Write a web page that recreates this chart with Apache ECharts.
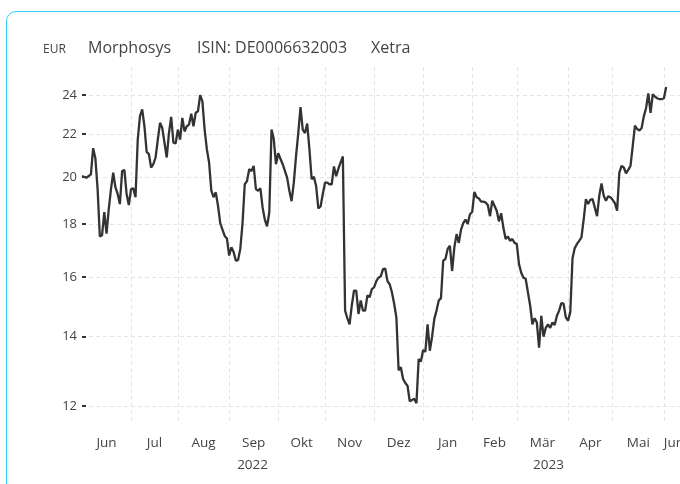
<!DOCTYPE html>
<html>
<head>
<meta charset="utf-8">
<script src="https://cdn.jsdelivr.net/npm/echarts@6/dist/echarts.min.js"></script>
<style>
  html, body { margin: 0; padding: 0; background: #fff; overflow: hidden; }
  #chart { position: absolute; left: 0; top: 0; width: 680px; height: 484px; }
  #frame { position: absolute; left: 6px; top: 11px; width: 740px; height: 540px;
           border: 1.5px solid #33cff5; border-radius: 10px; pointer-events: none; }
</style>
</head>
<body>
<div id="chart"></div>
<div id="frame"></div>
<script>
// ---- data (weekday session index counted from 2022-06-01, closing price in EUR) ----
const firstSession = [2022, 5, 1]; // 1 June 2022 (UTC month is 0-based)
const dayIndex = [
  0,2,4,5,6,7,8,9,10,11,12,13,14,15,16,17,18,19,20,21,22,23,24,25,26,27,28,29,30,31,32,33,34,35,36,37,38,39,40,41,42,43,44,
  45,46,47,48,49,50,51,52,53,54,55,56,57,58,59,60,61,62,63,64,65,66,67,68,69,70,71,72,73,74,75,76,77,78,79,80,81,82,83,84,85,86,87,88,
  90,92,93,94,95,96,97,98,99,100,101,102,103,104,105,106,107,108,109,110,111,112,113,114,115,116,117,118,119,120,121,122,123,124,125,126,127,128,129,130,131,132,
  133,134,135,136,137,138,139,140,141,142,143,144,145,146,147,148,149,150,151,152,153,154,155,156,157,158,159,160,161,162,163,164,165,166,167,168,169,170,171,172,173,174,175,
  176,177,178,179,180,181,182,183,184,186,187,188,189,190,191,192,193,194,195,196,197,198,199,200,201,202,203,204,205,206,207,208,209,210,211,212,213,214,215,216,217,218,219,220,
  221,222,223,224,225,226,227,228,229,231,232,233,234,235,236,237,238,239,240,241,242,243,244,245,246,247,248,249,250,251,252,253,254,255,256,257,258,259,260,261,262
];
const closePrice = [
  20.03,19.96,20.11,21.32,20.84,19.46,17.51,17.56,18.49,17.62,18.61,19.46,20.19,19.53,19.25,18.82,20.26,20.31,19.25,18.78,19.46,19.49,19.11,21.73,22.90,23.24,22.39,21.14,21.04,20.42,20.57,20.88,21.73,22.56,22.30,21.58,20.88,22.05,22.86,21.58,21.55,22.22,21.73,
  22.81,22.13,22.39,22.47,23.02,22.39,23.07,23.15,24.00,23.66,22.22,21.27,20.65,19.39,19.11,19.32,18.75,18.04,17.78,17.53,17.43,16.78,17.09,16.91,16.59,16.61,17.03,18.04,19.67,19.81,20.34,20.26,20.49,19.46,19.39,19.49,18.68,18.18,17.91,18.47,22.22,21.77,20.57,21.08,
  20.57,19.96,19.39,18.94,19.74,20.96,22.05,23.37,22.22,22.05,22.52,21.27,19.89,20.00,19.60,18.64,18.72,19.25,19.74,19.74,19.67,19.67,20.47,20.03,20.37,20.65,20.93,14.84,14.59,14.39,15.01,15.52,15.52,14.73,15.18,14.84,14.84,15.35,15.29,15.57,15.63,15.85,
  15.97,16.02,16.28,16.30,15.85,15.74,15.46,15.07,14.62,12.99,13.08,12.74,12.63,12.55,12.12,12.16,12.19,12.07,13.32,13.25,13.59,13.54,14.39,13.57,14.00,14.56,14.84,15.18,15.26,16.59,16.65,17.03,17.15,16.21,17.09,17.60,17.26,17.78,18.04,18.18,18.00,18.40,18.49,
  19.34,19.11,19.06,18.92,18.92,18.89,18.78,18.32,18.96,18.54,18.11,18.44,17.85,17.41,17.51,17.34,17.41,17.26,17.22,16.46,16.15,15.97,15.93,15.46,15.01,14.39,14.59,14.45,13.66,14.67,14.00,14.28,14.39,14.28,14.45,14.37,14.67,14.84,15.09,15.07,14.62,14.51,14.79,16.68,
  17.06,17.22,17.34,17.47,18.18,19.03,18.82,19.00,19.03,18.32,19.17,19.71,19.17,18.96,19.15,19.11,19.00,18.86,18.54,20.19,20.49,20.42,20.15,20.31,20.49,21.42,22.42,22.25,22.18,22.30,22.90,23.32,24.09,23.07,24.05,23.91,23.83,23.78,23.78,23.83,24.44
];
const yTicks = [12, 14, 16, 18, 20, 22, 24];
const monthNames = ['Jan','Feb','Mär','Apr','Mai','Jun','Jul','Aug','Sep','Okt','Nov','Dez'];
const axisEndIndex = 270;      // last weekday index shown on the axis
const priceMin = 11.55, priceMax = 25.55;
const titleParts = ['Morphosys', 'ISIN: DE0006632003', 'Xetra'];
const currency = 'EUR';

// ---- weekday calendar -> month / year segments ----
const months = [];
(function () {
  const d = new Date(Date.UTC(firstSession[0], firstSession[1], firstSession[2]));
  let i = 0;
  while (i <= axisEndIndex) {
    const wd = d.getUTCDay();
    if (wd !== 0 && wd !== 6) {
      const y = d.getUTCFullYear(), m = d.getUTCMonth();
      const last = months[months.length - 1];
      if (!last || last.y !== y || last.m !== m) months.push({ y: y, m: m, start: i });
      i++;
    }
    d.setUTCDate(d.getUTCDate() + 1);
  }
  months.forEach(function (mo, k) {
    mo.end = k + 1 < months.length ? months[k + 1].start : axisEndIndex;
    mo.center = (mo.start + mo.end) / 2;
  });
})();
const years = [];
months.forEach(function (mo) {
  const last = years[years.length - 1];
  if (!last || last.y !== mo.y) years.push({ y: mo.y, start: mo.start, end: mo.end });
  else last.end = mo.end;
});
// the last year's label is centred on the part of the axis that contains data labels
years.forEach(function (yr, k) {
  const end = k === years.length - 1 ? months[months.length - 1].center : yr.end;
  yr.center = (yr.start + end) / 2;
});

function nearest(list, v) {
  let best = list[0];
  list.forEach(function (it) { if (Math.abs(it.center - v) < Math.abs(best.center - v)) best = it; });
  return best;
}

const FONT = '"Open Sans", "Noto Sans", sans-serif';
const TXT = '#444';
const gridDash = { type: [4, 3], color: '#e4e4e4', width: 1 };

const chart = echarts.init(document.getElementById('chart'), null, { renderer: 'canvas' });
chart.setOption({
  animation: false,
  backgroundColor: 'transparent',
  textStyle: { fontFamily: FONT },
  title: [
    { text: currency, left: 43, top: 44, padding: 0, textStyle: { fontSize: 12, fontWeight: 'normal', color: TXT, fontFamily: FONT } },
    { text: titleParts[0], left: 88, top: 40, padding: 0, textStyle: { fontSize: 16, fontWeight: 'normal', color: TXT, fontFamily: FONT } },
    { text: titleParts[1], left: 197, top: 40, padding: 0, textStyle: { fontSize: 16, fontWeight: 'normal', color: TXT, fontFamily: FONT } },
    { text: titleParts[2], left: 371, top: 40, padding: 0, textStyle: { fontSize: 16, fontWeight: 'normal', color: TXT, fontFamily: FONT } }
  ],
  grid: { left: 82, right: -4, top: 67, bottom: 61, containLabel: false, outerBoundsMode: 'none' },
  xAxis: [
    {
      type: 'value', min: 0, max: axisEndIndex,
      axisLine: { show: false },
      axisTick: { show: false, customValues: months.slice(1).map(function (m) { return m.start; }) },
      splitLine: { show: true, lineStyle: gridDash },
      axisLabel: {
        customValues: months.map(function (m) { return m.center; }),
        formatter: function (v) { return monthNames[nearest(months, v).m]; },
        margin: 13, color: TXT, fontSize: 13.5, fontFamily: FONT
      }
    },
    {
      type: 'value', min: 0, max: axisEndIndex, position: 'bottom', offset: 22,
      axisLine: { show: false },
      axisTick: { show: false, customValues: years.map(function (y) { return y.center; }) },
      splitLine: { show: false },
      axisLabel: {
        customValues: years.map(function (y) { return y.center; }),
        formatter: function (v) { return String(nearest(years, v).y); },
        margin: 13, color: TXT, fontSize: 13.5, fontFamily: FONT
      }
    }
  ],
  yAxis: [
    {
      type: 'value', min: Math.log(priceMin), max: Math.log(priceMax),
      axisLine: { show: false },
      axisTick: { show: false, customValues: yTicks.map(Math.log) },
      axisLabel: { show: false },
      splitLine: { show: true, lineStyle: gridDash }
    },
    {
      type: 'value', min: Math.log(priceMin), max: Math.log(priceMax), position: 'left', z: 5,
      axisLine: { show: false },
      axisTick: { show: true, inside: true, length: 4, customValues: yTicks.map(Math.log), lineStyle: { color: '#333', width: 2 } },
      axisLabel: {
        customValues: yTicks.map(Math.log),
        formatter: function (v) { return String(Math.round(Math.exp(v))); },
        margin: 5, color: TXT, fontSize: 13, fontFamily: FONT
      },
      splitLine: { show: false }
    }
  ],
  series: [{
    type: 'line',
    xAxisIndex: 0, yAxisIndex: 0,
    data: dayIndex.map(function (x, k) { return [x, Math.log(closePrice[k])]; }),
    showSymbol: false, symbol: 'none',
    lineStyle: { color: '#333', width: 2.3 },
    z: 3
  }]
});
</script>
</body>
</html>
